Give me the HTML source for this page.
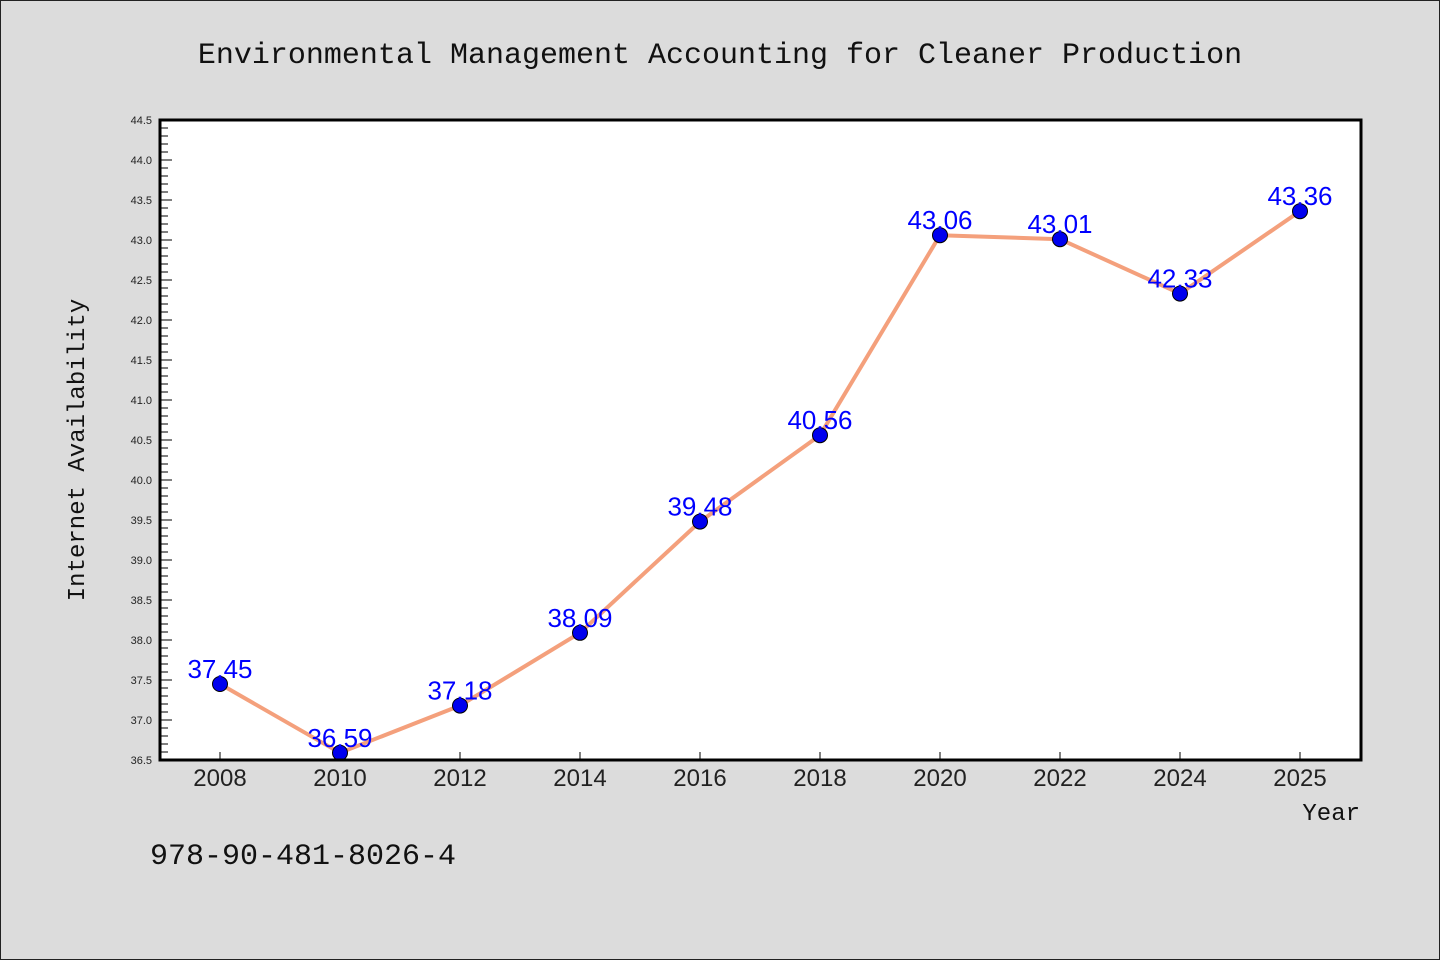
<!DOCTYPE html>
<html><head><meta charset="utf-8"><style>
html,body{margin:0;padding:0;background:#dcdcdc}
svg{display:block}
</style></head><body>
<svg width="1440" height="960" xmlns="http://www.w3.org/2000/svg">
<rect x="0.5" y="0.5" width="1439" height="959" fill="#dcdcdc" stroke="#222"/>
<text x="720" y="63" text-anchor="middle" font-family="Liberation Mono, monospace" font-size="30" fill="#111">Environmental Management Accounting for Cleaner Production</text>
<rect x="160" y="120" width="1201" height="640" fill="#fff"/>
<g id="yticks"></g>
<g id="xticks"></g>
<g id="series"></g>
<rect x="160" y="120" width="1201" height="640" fill="none" stroke="#000" stroke-width="3"/>
<text transform="translate(84,450) rotate(-90)" text-anchor="middle" font-family="Liberation Mono, monospace" font-size="24" fill="#111">Internet Availability</text>
<text x="1360" y="820" text-anchor="end" font-family="Liberation Mono, monospace" font-size="24" fill="#111">Year</text>
<text x="150" y="864" font-family="Liberation Mono, monospace" font-size="30" fill="#111">978-90-481-8026-4</text>
</svg>
<script>
const categories = ["2008","2010","2012","2014","2016","2018","2020","2022","2024","2025"];
const values = [37.45,36.59,37.18,38.09,39.48,40.56,43.06,43.01,42.33,43.36];
const yTickLabels = ["36.5","37.0","37.5","38.0","38.5","39.0","39.5","40.0","40.5","41.0","41.5","42.0","42.5","43.0","43.5","44.0","44.5"];
const yMin = 36.5, yMax = 44.5;
const NS = "http://www.w3.org/2000/svg";
function yScale(v){ return 760 - (v - yMin) / (yMax - yMin) * 640; }
function xScale(i){ return 220 + i * 120; }
function mk(tag, attrs, parent){ const e = document.createElementNS(NS, tag); for (const k in attrs) e.setAttribute(k, attrs[k]); parent.appendChild(e); return e; }
const yg = document.getElementById('yticks');
for (let k = 0; k <= 80; k++) {
  const v = yMin + k * 0.1;
  const y = yScale(v);
  const major = k % 5 === 0;
  const t = mk('line', {x1:160, x2: major ? 172 : 168, y1:y, y2:y, stroke:'#000', 'stroke-width':1}, yg);
  
  
}
yTickLabels.forEach(lbl => {
  const y = yScale(parseFloat(lbl));
  const t = mk('text', {x:152, y:y + 4, 'text-anchor':'end', 'font-family':'Liberation Sans, sans-serif', 'font-size':11, fill:'#222'}, yg);
  t.textContent = lbl;
  
  
});
const xg = document.getElementById('xticks');
categories.forEach((c, i) => {
  const x = xScale(i);
  const l = mk('line', {x1:x, x2:x, y1:752, y2:760, stroke:'#000', 'stroke-width':1}, xg);
  
  
  const t = mk('text', {x:x, y:786, 'text-anchor':'middle', 'font-family':'Liberation Sans, sans-serif', 'font-size':24, fill:'#222'}, xg);
  t.textContent = c;
  
  
});
const sg = document.getElementById('series');
const pts = values.map((v, i) => xScale(i) + ',' + yScale(v)).join(' ');
const pl = mk('polyline', {points:pts, fill:'none', stroke:'#f4a07c', 'stroke-width':4, 'stroke-linejoin':'round'}, sg);


values.forEach((v, i) => {
  const c = mk('circle', {cx:xScale(i), cy:yScale(v), r:7.5, fill:'#0000ee', stroke:'#000', 'stroke-width':1}, sg);
  
  
});
values.forEach((v, i) => {
  const t = mk('text', {x:xScale(i), y:yScale(v) - 6, 'text-anchor':'middle', 'font-family':'Liberation Sans, sans-serif', 'font-size':26, fill:'#0000ff'}, sg);
  t.textContent = v.toFixed(2);
  
  
});
</script>
</body></html>
